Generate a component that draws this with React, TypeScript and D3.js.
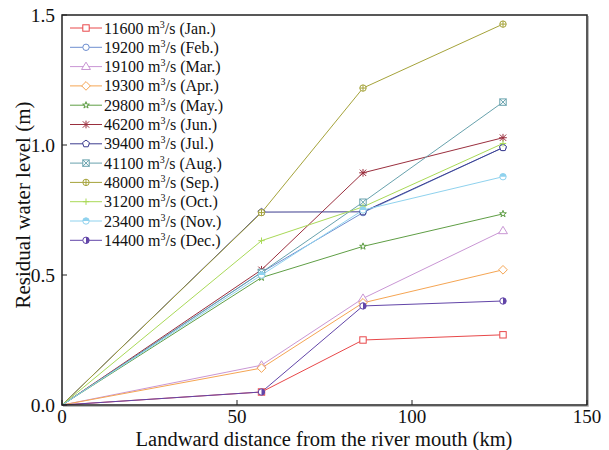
import React from "react";
import * as d3 from "d3";

const distances = [0, 57, 86, 126];
const months = ["Jan.", "Feb.", "Mar.", "Apr.", "May.", "Jun.", "Jul.", "Aug.", "Sep.", "Oct.", "Nov.", "Dec."];
const discharges = [11600, 19200, 19100, 19300, 29800, 46200, 39400, 41100, 48000, 31200, 23400, 14400];
const colors = ["#e8484a", "#6f8fd0", "#c996d4", "#f5a553", "#5f9e45", "#9a2f3e", "#3d3d8f", "#68a2ad", "#a5a33a", "#a9d957", "#8fd2ee", "#6245a8"];
const markers = ["square", "circle", "triangle", "diamond", "star", "asterisk", "pentagon", "squarex", "circleplus", "plus", "halftop", "halfright"];

const janVals = [0, 0.05, 0.25, 0.27];
const febVals = [0, 0.51, 0.74, 0.99];
const marVals = [0, 0.153, 0.41, 0.67];
const aprVals = [0, 0.142, 0.393, 0.52];
const mayVals = [0, 0.49, 0.61, 0.735];
const junVals = [0, 0.52, 0.893, 1.028];
const julVals = [0, 0.742, 0.743, 0.99];
const augVals = [0, 0.51, 0.78, 1.165];
const sepVals = [0, 0.74, 1.219, 1.465];
const octVals = [0, 0.632, 0.762, 1.006];
const novVals = [0, 0.50, 0.75, 0.878];
const decVals = [0, 0.05, 0.381, 0.40];
const seriesVals = [janVals, febVals, marVals, aprVals, mayVals, junVals, julVals, augVals, sepVals, octVals, novVals, decVals];

const xTicks = [0, 50, 100, 150];
const yTicks = [0, 0.5, 1.0, 1.5];

const W = 609, H = 450;
const L = 62, R = 587, T = 15, B = 405;
const FONT = "'Liberation Serif', 'DejaVu Serif', 'Times New Roman', Times, serif";

function Marker({ kind, color, x, y }: { kind: string; color: string; x: number; y: number }) {
  const s = 3.2;
  const common = { fill: "white", stroke: color, strokeWidth: 1 } as any;
  switch (kind) {
    case "square":
      return <rect x={x - s} y={y - s} width={2 * s} height={2 * s} {...common} />;
    case "circle":
      return <circle cx={x} cy={y} r={s} {...common} />;
    case "triangle":
      return <path d={`M${x},${y - s * 1.4}L${x + s * 1.4},${y + s * 0.9}L${x - s * 1.4},${y + s * 0.9}Z`} {...common} />;
    case "diamond":
      return <path d={`M${x},${y - s * 1.35}L${x + s * 1.35},${y}L${x},${y + s * 1.35}L${x - s * 1.35},${y}Z`} {...common} />;
    case "star": {
      const p = d3.symbol().type(d3.symbolStar).size(14)();
      return <path d={p as string} transform={`translate(${x},${y})`} {...common} />;
    }
    case "asterisk":
      return (
        <g stroke={color} strokeWidth={1}>
          <line x1={x - s} y1={y - s} x2={x + s} y2={y + s} />
          <line x1={x - s} y1={y + s} x2={x + s} y2={y - s} />
          <line x1={x} y1={y - s * 1.2} x2={x} y2={y + s * 1.2} />
          <line x1={x - s * 1.2} y1={y} x2={x + s * 1.2} y2={y} />
        </g>
      );
    case "pentagon": {
      const pts = d3.range(5).map((i) => {
        const a = -Math.PI / 2 + (i * 2 * Math.PI) / 5;
        return `${x + s * 1.15 * Math.cos(a)},${y + s * 1.15 * Math.sin(a)}`;
      });
      return <polygon points={pts.join(" ")} {...common} />;
    }
    case "squarex":
      return (
        <g>
          <rect x={x - s} y={y - s} width={2 * s} height={2 * s} {...common} />
          <line x1={x - s} y1={y - s} x2={x + s} y2={y + s} stroke={color} strokeWidth={1} />
          <line x1={x - s} y1={y + s} x2={x + s} y2={y - s} stroke={color} strokeWidth={1} />
        </g>
      );
    case "circleplus":
      return (
        <g>
          <circle cx={x} cy={y} r={s} {...common} />
          <line x1={x - s} y1={y} x2={x + s} y2={y} stroke={color} strokeWidth={1} />
          <line x1={x} y1={y - s} x2={x} y2={y + s} stroke={color} strokeWidth={1} />
        </g>
      );
    case "plus":
      return (
        <g stroke={color} strokeWidth={1}>
          <line x1={x - s} y1={y} x2={x + s} y2={y} />
          <line x1={x} y1={y - s} x2={x} y2={y + s} />
        </g>
      );
    case "halftop":
      return (
        <g>
          <circle cx={x} cy={y} r={s} {...common} />
          <path d={`M${x - s},${y}A${s},${s} 0 0 1 ${x + s},${y}Z`} fill={color} />
        </g>
      );
    case "halfright":
      return (
        <g>
          <circle cx={x} cy={y} r={s} {...common} />
          <path d={`M${x},${y - s}A${s},${s} 0 0 1 ${x},${y + s}Z`} fill={color} />
        </g>
      );
  }
  return null;
}

export default function App() {
  const xScale = d3.scaleLinear().domain([0, 150]).range([L, R]);
  const yScale = d3.scaleLinear().domain([0, 1.5]).range([B, T]);
  const line = d3
    .line<[number, number]>()
    .x((d) => xScale(d[0]))
    .y((d) => yScale(d[1]));

  const legX = 70, legY = 28, legDy = 19.3;

  return (
    <svg width={W} height={H} style={{ position: "absolute", left: 0, top: 0, background: "white", fontFamily: FONT }}>
      <rect x={0} y={0} width={W} height={H} fill="white" />
      {seriesVals.map((vals, i) => (
        <path key={"l" + i} d={line(distances.map((d, j) => [d, vals[j]]) as any) as string} fill="none" stroke={colors[i]} strokeWidth={1} />
      ))}
      {seriesVals.map((vals, i) => (
        <g key={"m" + i}>
          {distances.slice(1).map((d, j) => (
            <Marker key={j} kind={markers[i]} color={colors[i]} x={xScale(d)} y={yScale(vals[j + 1])} />
          ))}
        </g>
      ))}
      {/* frame */}
      <rect x={L} y={T} width={R - L} height={B - T} fill="none" stroke="#222" strokeWidth={1.5} />
      <line x1={R + 1.5} y1={T + 1} x2={R + 1.5} y2={B + 1.5} stroke="#bbb" strokeWidth={1} />
      <line x1={L + 1} y1={B + 1.5} x2={R + 1.5} y2={B + 1.5} stroke="#bbb" strokeWidth={1} />
      {/* ticks */}
      {xTicks.map((t) => (
        <g key={"xt" + t}>
          <line x1={xScale(t)} y1={B} x2={xScale(t)} y2={B - 5} stroke="#222" strokeWidth={1} />
          <text x={xScale(t)} y={422.5} fontSize={19} textAnchor="middle" fill="#111" fontFamily={FONT}>{t}</text>
        </g>
      ))}
      {yTicks.map((t) => (
        <g key={"yt" + t}>
          <line x1={L} y1={yScale(t)} x2={L + 5} y2={yScale(t)} stroke="#222" strokeWidth={1} />
          <text x={55} y={yScale(t) + 6.5} fontSize={19.5} textAnchor="end" fill="#111" fontFamily={FONT}>{t.toFixed(1)}</text>
        </g>
      ))}
      <text x={324} y={446} fontSize={20.5} textAnchor="middle" fill="#111" fontFamily={FONT}>Landward distance from the river mouth (km)</text>
      <text transform={`translate(30,205) rotate(-90)`} fontSize={21} textAnchor="middle" fill="#111" fontFamily={FONT}>Residual water level (m)</text>
      {/* legend */}
      {months.map((m, i) => {
        const y = legY + i * legDy;
        return (
          <g key={"lg" + i}>
            <line x1={legX} y1={y} x2={legX + 32} y2={y} stroke={colors[i]} strokeWidth={1} />
            <Marker kind={markers[i]} color={colors[i]} x={legX + 16} y={y} />
            <text x={legX + 34} y={y + 5.5} fontSize={16} fill="#111" fontFamily={FONT}>
              {discharges[i]} m<tspan dy={-6} fontSize={10}>3</tspan><tspan dy={6}>/s ({m})</tspan>
            </text>
          </g>
        );
      })}
    </svg>
  );
}
